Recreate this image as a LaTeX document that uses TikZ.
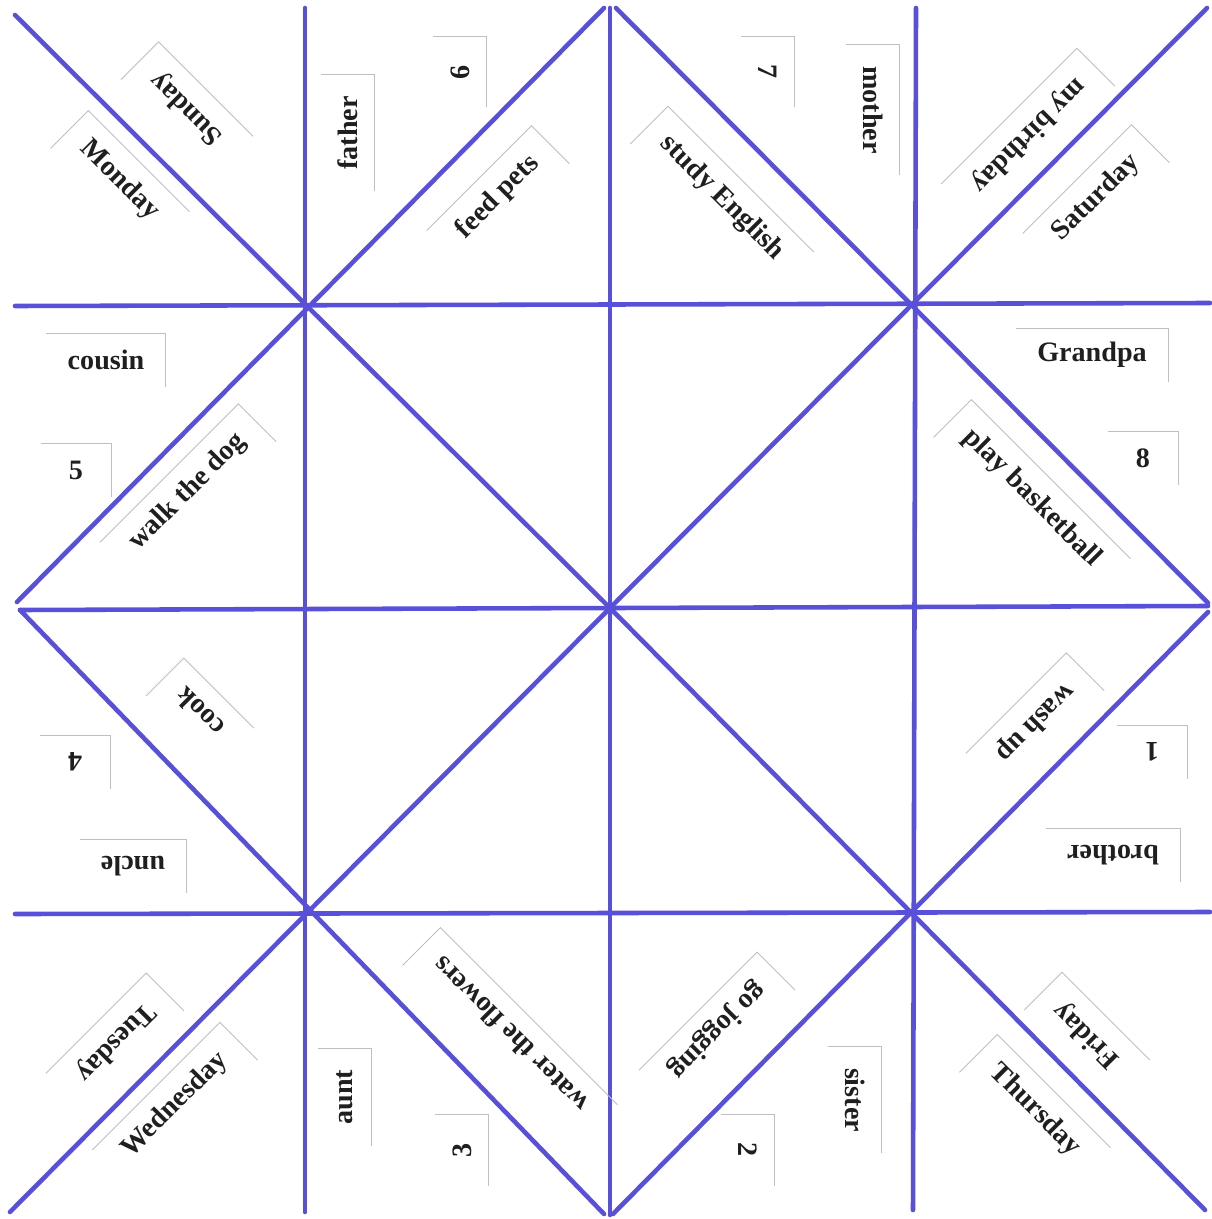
\documentclass[tikz,border=0pt]{standalone}
\usepackage{fontspec}
\setmainfont{Liberation Serif}
\definecolor{foldblue}{RGB}{88,80,216}
\tikzset{
  foldline/.style={draw=foldblue, line width=2.6pt, line cap=round},
  lbl/.style={font=\fontsize{16}{19}\selectfont\bfseries, inner xsep=12pt, minimum height=30pt, text=black!88},
  numlbl/.style={lbl, minimum width=40pt},
  stripedge/.style={draw=gray!50, line width=0.5pt},
}
\newcommand\stripA[1]{\draw[stripedge] (#1.north west) -- (#1.north east) -- (#1.south east);}
\newcommand\stripB[1]{\draw[stripedge] (#1.north east) -- (#1.north west) -- (#1.south west);}
\newcommand\stripC[1]{\draw[stripedge] (#1.north east) -- (#1.south east) -- (#1.south west);}
\newcommand\stripD[1]{\draw[stripedge] (#1.south east) -- (#1.south west) -- (#1.north west);}
\newcommand\lab[6]{\node[#6, rotate=#3] (#1) at (#2) {#4}; \csname strip#5\endcsname{#1}}
\begin{document}
\begin{tikzpicture}[x=0.02cm, y=-0.02cm]
\useasboundingbox (0,0) rectangle (1212,1219);
\fill[white] (0,0) rectangle (1212,1219);
% key points of the fold pattern
\coordinate (tl) at (15,15);
\coordinate (tr) at (1207,8);
\coordinate (bl) at (10,1212);
\coordinate (br) at (1205,1210);
\coordinate (c) at (610,608);
% grid lines
\draw[foldline] (305,8) -- (305,1212);
\draw[foldline] (610,8) -- (610,1215);
\draw[foldline] (916,8) -- (913,1210);
\draw[foldline] (15,306) -- (1210,303);
\draw[foldline] (20,610) -- (1208,606);
\draw[foldline] (15,914) -- (1210,912);
% diagonals
\draw[foldline] (tl) -- (c) -- (br);
\draw[foldline] (tr) -- (c) -- (bl);
% diamond
\draw[foldline] (17,602) -- (604,8);
\draw[foldline] (616,8) -- (1208,603);
\draw[foldline] (1208,612) -- (613,1214);
\draw[foldline] (604,1214) -- (20,610);
% labels
\lab{sun}{187,108}{135}{Sunday}{C}{lbl}
\lab{mon}{120,180}{-45}{Monday}{B}{lbl}
\lab{fat}{348,133}{90}{father}{C}{lbl}
\lab{six}{460,72}{90}{6}{C}{numlbl}
\lab{fee}{498,197}{45}{feed pets}{A}{lbl}
\lab{stu}{722,198}{-45}{study English}{B}{lbl}
\lab{sev}{768,72}{-90}{7}{B}{numlbl}
\lab{mot}{873,110}{-90}{mother}{B}{lbl}
\lab{bir}{1028,135}{-135}{my birthday}{D}{lbl}
\lab{sat}{1096,198}{45}{Saturday}{A}{lbl}
\lab{cou}{106,360}{0}{cousin}{A}{lbl}
\lab{fiv}{76,470}{0}{5}{A}{numlbl}
\lab{wal}{188,492}{45}{walk the dog}{A}{lbl}
\lab{coo}{200,712}{135}{cook}{C}{lbl}
\lab{fou}{75,762}{180}{4}{D}{numlbl}
\lab{unc}{133,866}{180}{uncle}{D}{lbl}
\lab{gra}{1092,355}{0}{Grandpa}{A}{lbl}
\lab{eig}{1143,458}{0}{8}{A}{numlbl}
\lab{pla}{1032,498}{-45}{play basketball}{B}{lbl}
\lab{was}{1035,722}{-135}{wash up}{D}{lbl}
\lab{one}{1152,752}{180}{1}{D}{numlbl}
\lab{bro}{1113,855}{180}{brother}{D}{lbl}
\lab{tue}{115,1042}{-135}{Tuesday}{D}{lbl}
\lab{wed}{175,1105}{45}{Wednesday}{A}{lbl}
\lab{aun}{345,1097}{90}{aunt}{C}{lbl}
\lab{thr}{462,1150}{90}{3}{C}{numlbl}
\lab{wat}{510,1035}{135}{water the flowers}{C}{lbl}
\lab{goj}{717,1030}{-135}{go jogging}{D}{lbl}
\lab{sis}{855,1100}{-90}{sister}{B}{lbl}
\lab{two}{748,1150}{-90}{2}{B}{numlbl}
\lab{fri}{1087,1035}{135}{Friday}{C}{lbl}
\lab{thu}{1035,1110}{-45}{Thursday}{B}{lbl}
\end{tikzpicture}
\end{document}
